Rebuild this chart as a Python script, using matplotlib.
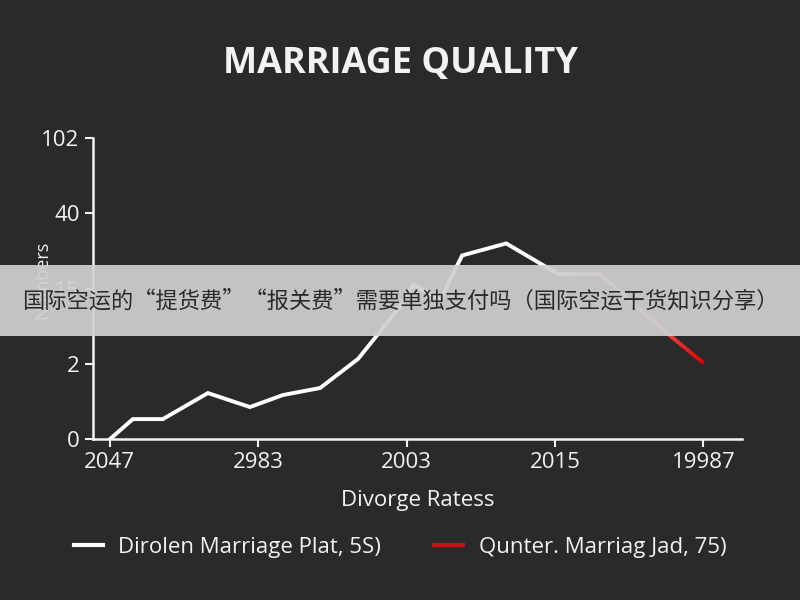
import numpy as np
import matplotlib
matplotlib.use("Agg")
import matplotlib.pyplot as plt
from matplotlib.collections import LineCollection
from matplotlib.lines import Line2D

plt.rcParams['font.family'] = ['Open Sans', 'Noto Sans CJK SC', 'DejaVu Sans']

# tick labels (positional axes)
x_labels = ["2047", "2983", "2003", "2015", "19987"]
y_labels = ["0", "2", "15", "40", "102"]

# white series (positions in tick units)
white_x = [0.0, 0.155, 0.357, 0.661, 0.944, 1.167, 1.417, 1.673, 1.956, 2.044, 2.226, 2.374, 2.671, 3.015]
white_y = [0.0, 0.267, 0.267, 0.613, 0.427, 0.587, 0.68, 1.067, 1.76, 2.053, 1.853, 2.44, 2.6, 2.2]

# red series
red_x = [3.015, 3.298, 3.76, 4.0]
red_y = [2.2, 2.2, 1.4, 1.013]

bg = "#2a2a2a"
fg = "#f2f2f2"

fig = plt.figure(figsize=(8, 6), dpi=100, facecolor=bg)
ax = fig.add_axes([0.116, 0.268, 0.8115, 0.502], facecolor=bg)

ax.plot(white_x, white_y, color="white", lw=2.8, solid_joinstyle="miter", zorder=3)

# red line fades in from pale pink to red
pts = []
for i in range(len(red_x) - 1):
    for t in np.linspace(0, 1, 20, endpoint=False):
        pts.append((red_x[i] + t * (red_x[i + 1] - red_x[i]),
                    red_y[i] + t * (red_y[i + 1] - red_y[i])))
pts.append((red_x[-1], red_y[-1]))
pts = np.array(pts)
segs = np.stack([pts[:-1], pts[1:]], axis=1)
frac = np.linspace(0, 1, len(segs))
cols = [(0.95, 0.85 - 0.85 * f, 0.85 - 0.85 * f) for f in frac]
ax.add_collection(LineCollection(segs, colors=cols, linewidths=2.8, zorder=3))

ax.set_xlim(-0.115, 4.26)
ax.set_ylim(0, 4)
ax.set_xticks(range(5))
ax.set_xticklabels(x_labels)
ax.set_yticks(range(5))
ax.set_yticklabels(y_labels)
ax.tick_params(colors=fg, labelsize=16, length=6, width=1.5)
for s in ["top", "right"]:
    ax.spines[s].set_visible(False)
for s in ["left", "bottom"]:
    ax.spines[s].set_color(fg)
    ax.spines[s].set_linewidth(1.8)

ax.set_xlabel("Divorge Ratess", color=fg, fontsize=16, labelpad=12)
fig.text(0.053, 0.533, "Numbers", color=fg, fontsize=13, rotation=90,
         ha="center", va="center")

fig.text(0.5, 0.893, "MARRIAGE QUALITY", color=fg, fontsize=26,
         fontweight="bold", ha="center", va="center")

handles = [Line2D([], [], color="white", lw=3),
           Line2D([], [], color="#d01010", lw=3)]
fig.legend(handles, ["Dirolen Marriage Plat, 5S)", "Qunter. Marriag Jad, 75)"],
           loc="center", bbox_to_anchor=(0.5, 0.088), ncol=2, frameon=False,
           fontsize=16, labelcolor=fg, handlelength=1.3, columnspacing=2.4,
           handletextpad=0.7)

# overlay banner
fig.patches.append(plt.Rectangle((0, 0.44), 1, 0.118, transform=fig.transFigure,
                                 facecolor="#d0d0d0", alpha=0.93, zorder=10))
fig.text(0.5, 0.498, "国际空运的“提货费”“报关费”需要单独支付吗（国际空运干货知识分享）",
         color="#2a2a2a", fontsize=16, ha="center", va="center", zorder=11,
         family=['Noto Sans CJK SC', 'DejaVu Sans'])

fig.savefig("out.png", dpi=100, facecolor=bg)
